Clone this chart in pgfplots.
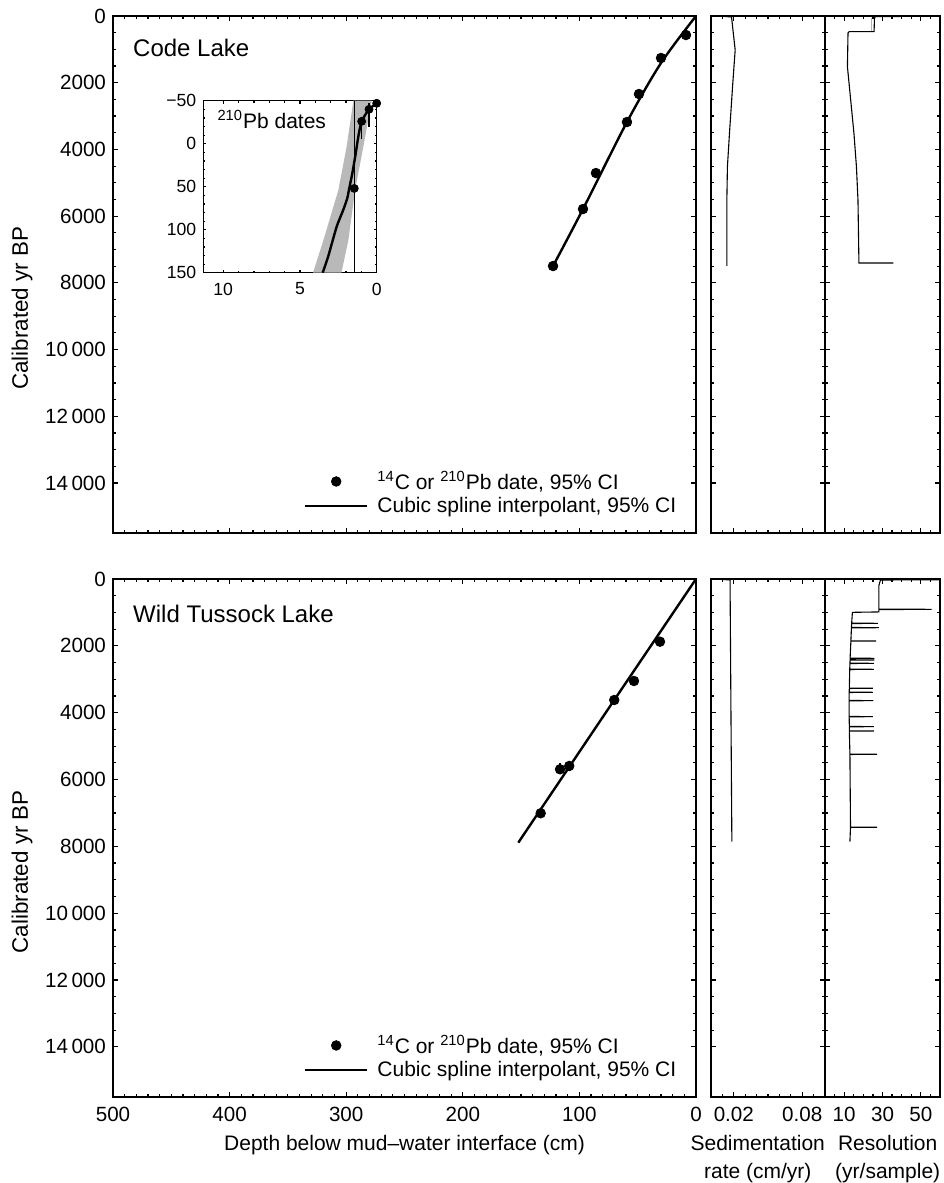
\documentclass[border=0pt]{standalone}
\usepackage{fontspec}
\setmainfont{Liberation Sans}
\usepackage{pgfplots}
\pgfplotsset{compat=1.18}

% legend symbols: a long line sample, with the dot of a marks-only entry at its centre
\pgfplotsset{
  legend image code/.code={\draw[mark repeat=2,mark phase=2,#1] plot coordinates {(-13pt,0pt) (2.5pt,0pt) (18pt,0pt)}; \path (20.5pt,0pt);},
  core/.style={
    scale only axis,
    anchor=south west,
    scaled ticks=false,
    axis line style={line width=0.7pt},
    every tick/.style={black, line width=0.6pt},
    major tick length=2.6pt,
    minor tick length=1.6pt,
    tick align=inside,
    tick pos=both,
    ticklabel style={font=\fontsize{10.3}{11}\selectfont},
    xticklabel style={yshift=-1.5pt},
    /pgf/number format/assume math mode=true,
    label style={font=\fontsize{10.5}{14}\selectfont, align=center},
    clip mode=individual,
  },
  agescale/.style={
    ymin=0, ymax=15500, y dir=reverse,
    ytick={0,2000,...,14000}, minor y tick num=3,
  },
  depthpanel/.style={core, agescale,
    width=291.5pt, height=258.5pt,
    xmin=0, xmax=500, x dir=reverse,
    xtick={0,100,...,500}, minor x tick num=9,
    yticklabels={0,2000,4000,6000,8000,10\,000,12\,000,14\,000},
    ylabel={Calibrated yr BP},
    ylabel style={at={(axis description cs:-0.156,0.435)}, anchor=center,
      font=\fontsize{11.2}{13}\selectfont},
    legend style={at={(axis description cs:0.984,0.018)}, anchor=south east,
      draw=none, fill=none, font=\fontsize{10.5}{12}\selectfont, row sep=-1.5pt},
    legend cell align=left,
  },
  sedpanel/.style={core, agescale,
    width=57pt, height=258.5pt,
    xmin=0, xmax=0.1, xtick={0.02,0.08},
    minor xtick={0.01,0.03,0.04,0.05,0.06,0.07,0.09},
    xticklabels={0.02,0.08}, yticklabels={},
  },
  respanel/.style={core, agescale,
    width=57.5pt, height=258.5pt,
    xmin=0, xmax=60, xtick={10,30,50},
    minor xtick={5,15,20,25,35,40,45,55},
    xticklabels={10,30,50}, yticklabels={},
  },
  dates/.style={only marks, mark=*, mark size=2.4pt, black, forget plot},
  spline/.style={black, line width=1.2pt, forget plot},
  trace/.style={black, line width=0.55pt, forget plot},
}

\begin{document}
\begin{tikzpicture}
\path[use as bounding box] (0,0) rectangle (471.5pt,-591.5pt);

% ---------------- Code Lake ----------------
\begin{axis}[depthpanel, at={(56.5pt,-266.5pt)}, xticklabels={}]
  \addlegendimage{only marks, mark=*, mark size=2.4pt, black}
  \addlegendentry{\textsuperscript{14}C or \textsuperscript{210}Pb date, 95\% CI}
  \addlegendimage{black, line width=1.2pt}
  \addlegendentry{Cubic spline interpolant, 95\% CI}
  \addplot[spline, smooth, tension=0.5] coordinates {
    (0,0) (30.0,1409) (59.2,3178) (96.9,5787) (122.6,7496)};
  \addplot[dates] coordinates {
    (0,-45) (8.6,570) (30.0,1259) (48.9,2339) (59.2,3178)
    (85.8,4708) (96.9,5787) (122.6,7496)};
  \node[anchor=base west, inner sep=0pt, font=\fontsize{12}{14}\selectfont]
    at (axis description cs:0.034,0.922) {Code Lake};
\end{axis}

\begin{axis}[sedpanel, at={(355.5pt,-266.5pt)}, xticklabels={}]
  \addplot[trace] coordinates {
    (0.008,0) (0.018,30) (0.0183,120) (0.0212,1020) (0.0191,2019)
    (0.0162,3518) (0.0144,4518) (0.0139,5517) (0.0139,7490)};
\end{axis}

\begin{axis}[respanel, at={(412.5pt,-266.5pt)}, xticklabels={}]
  \addplot[trace, gray!60] coordinates {(24.4,60) (24.4,480)};
  \addplot[trace] coordinates {
    (62,5) (45,10) (26.2,20) (25.8,70) (25.6,470) (12.6,470) (12.0,510)
    (11.7,1520) (13.4,2520) (15.1,3520) (16.4,4520) (17.2,5520)
    (17.7,7406) (35.7,7406)};
\end{axis}

% 210Pb inset
\begin{axis}[core, at={(101.65pt,-136.35pt)}, width=86.7pt, height=86pt,
  xmin=0, xmax=11.3, x dir=reverse, ymin=-50, ymax=150, y dir=reverse,
  xtick={0,5,10}, minor x tick num=4,
  ytick={-50,0,50,100,150}, yticklabels={−50,0,50,100,150}, minor y tick num=4,
  ticklabel style={font=\fontsize{8.8}{10}\selectfont},
  xticklabel style={yshift=0pt},
  major tick length=1.6pt, minor tick length=1pt,
  axis line style={line width=0.6pt}]
  \addplot[fill=gray!55, draw=none, forget plot] coordinates {
    (1.52,-50) (1.96,3.5) (2.5,54) (3.48,112.6) (4.15,150)
    (2.3,150) (1.85,112.6) (1.41,54) (0.87,3.5) (0.33,-50)} -- cycle;
  \addplot[black, line width=0.5pt, forget plot] coordinates {(1.46,-50) (1.46,150)};
  \addplot[spline, smooth, tension=0.4] coordinates {
    (0,-47) (0.5,-40) (0.98,-26) (1.2,-8) (1.37,11.6) (1.59,34.5) (1.79,52)
    (1.92,63.5) (2.18,77) (2.61,96.5) (3.16,131) (3.52,150)};
  \addplot[dates, mark size=2pt,
    error bars/.cd, y dir=both, y explicit, error mark=none,
    error bar style={line width=0.6pt}] coordinates {
    (0,-47)
    (0.5,-40) += (0,20) -= (0,7)
    (0.98,-26) += (0,21) -= (0,2)
    (1.46,52)};
  \node[anchor=base west, inner sep=0pt, font=\fontsize{10.5}{12}\selectfont]
    at (axis description cs:0.08,0.84) {\textsuperscript{210}Pb dates};
\end{axis}

% ---------------- Wild Tussock Lake ----------------
\begin{axis}[depthpanel, at={(56.5pt,-548.5pt)}, height=259pt,
  xlabel={Depth below mud–water interface (cm)}]
  \addlegendimage{only marks, mark=*, mark size=2.4pt, black}
  \addlegendentry{\textsuperscript{14}C or \textsuperscript{210}Pb date, 95\% CI}
  \addlegendimage{black, line width=1.2pt}
  \addlegendentry{Cubic spline interpolant, 95\% CI}
  \addplot[spline] coordinates {(0,0) (70.1,3620) (152.4,7888)};
  \addplot[dates, error bars/.cd, y dir=both, y explicit, error mark=none,
    error bar style={line width=0.6pt}] coordinates {
    (0,-40) (30.9,1875) (53.2,3051) (70.1,3620) (108.7,5594)
    (116.6,5693) += (0,60) -= (0,200)
    (133.2,7009)};
  \node[anchor=base west, inner sep=0pt, font=\fontsize{12}{14}\selectfont]
    at (axis description cs:0.034,0.917) {Wild Tussock Lake};
\end{axis}

\begin{axis}[sedpanel, at={(355.5pt,-548.5pt)}, height=259pt,
  xlabel={Sedimentation\\rate (cm/yr)},
  xlabel style={at={(ticklabel cs:0.41)}}]
  \addplot[trace] coordinates {
    (0.006,0) (0.0168,30) (0.0168,500) (0.0175,4000) (0.0183,7858)};
\end{axis}

\begin{axis}[respanel, at={(412.5pt,-548.5pt)}, height=259pt,
  xlabel={Resolution\\(yr/sample)},
  xlabel style={at={(ticklabel cs:0.545)}}]
  \addplot[trace] coordinates {
    (62,20) (45,25) (28.9,30) (28.1,200) (28.1,900) (55.6,907) (28.1,914)
    (28.1,985) (14.3,997) (13.9,1320) (27.6,1326) (13.9,1332)
    (13.8,1450) (28.1,1456) (13.8,1462) (13.5,1850) (26.7,1855) (13.5,1860)
    (13.1,2368) (25.8,2373) (13.1,2378) (13.1,2418) (25.8,2423) (13.1,2428)
    (13.0,2518) (25.5,2523) (13.0,2528) (12.9,2697) (25.5,2702) (12.9,2707)
    (12.7,3265) (25.0,3270) (12.7,3275) (12.6,3385) (25.0,3390) (12.6,3395)
    (12.6,3634) (25.2,3639) (12.6,3644) (12.6,4113) (25.0,4118) (12.6,4123)
    (12.7,4412) (25.5,4417) (12.7,4422) (12.7,4542) (25.5,4547) (12.7,4552)
    (13.0,5240) (27.2,5245) (13.0,5250) (13.3,7423) (27.2,7428) (13.3,7433)
    (13.0,7858)};
\end{axis}
\end{tikzpicture}
\end{document}
